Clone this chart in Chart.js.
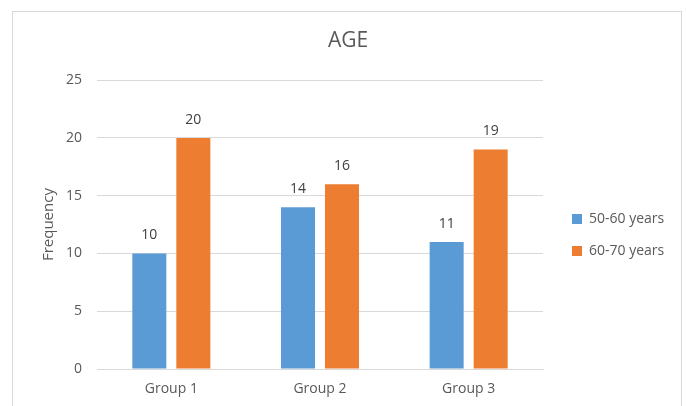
<!DOCTYPE html>
<html>
<head>
<meta charset="utf-8">
<script src="https://cdn.jsdelivr.net/npm/chart.js@4.4.1/dist/chart.umd.min.js"></script>
<style>
  html, body { margin: 0; padding: 0; background: #ffffff; }
  #wrap { position: relative; width: 686px; height: 406px; overflow: hidden; }
  #frame { position: absolute; left: 12px; top: 11px; width: 670px; height: 400px;
           border: 1px solid #d9d9d9; border-bottom: none; box-sizing: border-box; }
  #c { position: absolute; left: 0; top: 0; }
</style>
</head>
<body>
<div id="wrap">
  <div id="frame"></div>
  <canvas id="c" width="686" height="406"></canvas>
</div>
<script>
const categories = ['Group 1', 'Group 2', 'Group 3'];
const seriesNames = ['50-60 years', '60-70 years'];
const values5060 = [10, 14, 11];
const values6070 = [20, 16, 19];
const yTicks = [0, 5, 10, 15, 20, 25];

const FONT = "'Open Sans', 'Liberation Sans', sans-serif";
const TXT = '#595959';

const layoutFix = {
  id: 'layoutFix',
  beforeLayout(chart) {
    const lg = chart.legend;
    if (lg && !lg._patched) {
      const orig = lg.fit;
      lg.fit = function () { orig.call(this); this.width = 143; };
      lg._patched = true;
    }
  },
  afterLayout(chart) {
    const lg = chart.legend;
    if (!lg) return;
    lg.left += 11; lg.right += 11;
    lg.top += 32; lg.bottom += 32;
  }
};

const dataLabels = {
  id: 'dataLabels',
  afterDatasetsDraw(chart) {
    const ctx = chart.ctx;
    ctx.save();
    ctx.font = '14px ' + FONT;
    ctx.fillStyle = '#404040';
    ctx.textAlign = 'center';
    ctx.textBaseline = 'middle';
    chart.data.datasets.forEach((ds, i) => {
      const meta = chart.getDatasetMeta(i);
      meta.data.forEach((el, j) => {
        ctx.fillText(String(ds.data[j]), el.x, el.y - 18);
      });
    });
    ctx.restore();
  }
};

new Chart(document.getElementById('c'), {
  type: 'bar',
  data: {
    labels: categories,
    datasets: [
      { label: seriesNames[0], data: values5060, backgroundColor: '#5B9BD5',
        categoryPercentage: 0.592, barPercentage: 0.773 },
      { label: seriesNames[1], data: values6070, backgroundColor: '#ED7D31',
        categoryPercentage: 0.592, barPercentage: 0.773 }
    ]
  },
  options: {
    responsive: false,
    animation: false,
    devicePixelRatio: 1,
    layout: { padding: { left: 10, right: 0, top: 0, bottom: 0 } },
    plugins: {
      title: {
        display: true, text: 'AGE', color: TXT,
        font: { family: FONT, size: 21, weight: 'normal' },
        padding: { top: 28, bottom: 27 }
      },
      legend: {
        position: 'right', align: 'center',
        labels: {
          color: TXT, boxWidth: 10, boxHeight: 10, padding: 18,
          font: { family: FONT, size: 14 }
        }
      },
      tooltip: { enabled: false }
    },
    scales: {
      x: {
        grid: { display: false, drawTicks: false },
        border: { display: true, color: '#d9d9d9', width: 1 },
        ticks: { color: TXT, font: { family: FONT, size: 14 }, padding: 12 },
        afterFit(scale) { scale.height = 37; }
      },
      y: {
        min: 0, max: 25,
        afterBuildTicks(scale) { scale.ticks = yTicks.map(v => ({ value: v })); },
        grid: { color: '#d9d9d9', drawTicks: false },
        border: { display: false },
        ticks: { color: TXT, font: { family: FONT, size: 14 }, padding: 15 },
        title: { display: true, text: 'Frequency', color: TXT,
                 font: { family: FONT, size: 15 }, padding: { top: 30, bottom: 0 } },
        afterFit(scale) { scale.width = 87; }
      }
    }
  },
  plugins: [layoutFix, dataLabels]
});
</script>
</body>
</html>
